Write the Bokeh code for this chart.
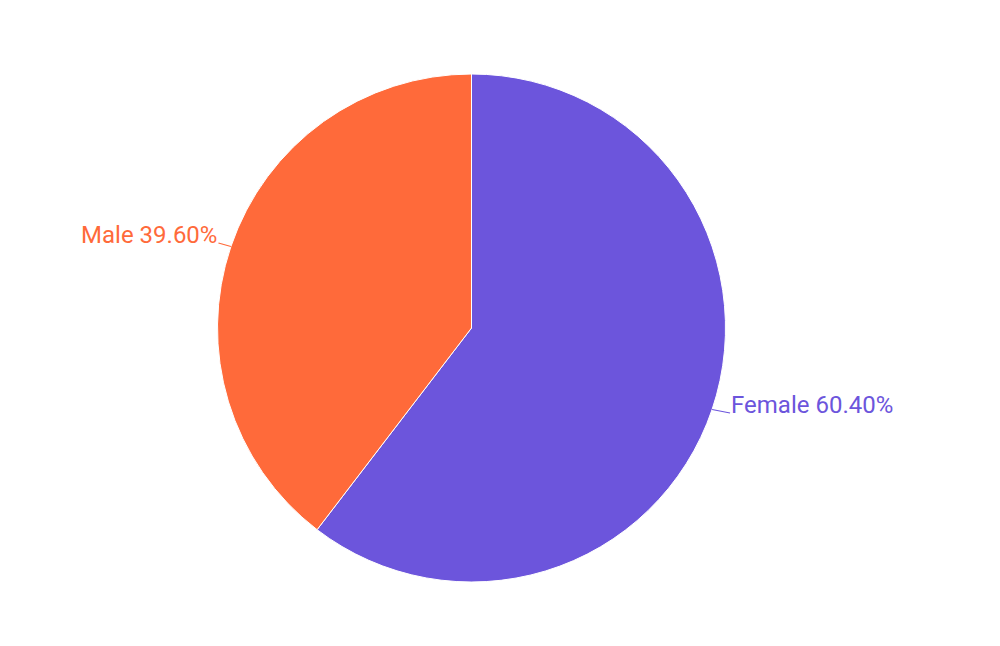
import math
from bokeh.plotting import figure
from bokeh.models import Range1d, ColumnDataSource
from bokeh.core.properties import value
from bokeh.embed import file_html
from bokeh.resources import INLINE

# ---- data ----
categories = ["Female", "Male"]
shares = [60.40, 39.60]
colors = ["#6C55DC", "#FF6A3A"]

# ---- layout (screen-pixel coordinate frame) ----
W, H = 984, 630
PAGE_H = 646
cx, cy_screen, R = 471, 327.5, 254
cy = PAGE_H - cy_screen

p = figure(width=W, height=H, output_backend="svg", toolbar_location=None,
           x_range=Range1d(0, W), y_range=Range1d(PAGE_H - H, PAGE_H),
           min_border=0)
p.axis.visible = False
p.grid.visible = False
p.outline_line_color = None
p.background_fill_color = "white"
p.border_fill_color = "white"

# angles: start at top, clockwise
total = sum(shares)
starts, ends, mids = [], [], []
acc = 0.0
for s in shares:
    a0 = math.pi / 2 - 2 * math.pi * acc / total
    a1 = math.pi / 2 - 2 * math.pi * (acc + s) / total
    starts.append(a1)
    ends.append(a0)
    mids.append((a0 + a1) / 2)
    acc += s

src = ColumnDataSource(dict(x=[cx] * len(shares), y=[cy] * len(shares),
                            start=starts, end=ends, color=colors))
p.wedge(x="x", y="y", radius=R, start_angle="start", end_angle="end",
        fill_color="color", line_color="white", line_width=1, source=src)

for cat, s, col, m in zip(categories, shares, colors, mids):
    ex = cx + R * math.cos(m)
    ey = cy + R * math.sin(m)
    side = 1 if math.cos(m) >= 0 else -1
    lx = ex + (18 if side > 0 else -12.5)
    ly = ey - side * 3.5
    p.line([ex, lx], [ey, ly], line_color=col, line_width=1.2)
    p.text(x=[lx + side * 1], y=[ly + 8], text=[f"{cat} {s:.2f}%"],
           text_color=col, text_font=value("Roboto"), text_font_size="24px",
           text_align="left" if side > 0 else "right", text_baseline="middle")

open("out.html", "w").write(file_html(p, INLINE))
